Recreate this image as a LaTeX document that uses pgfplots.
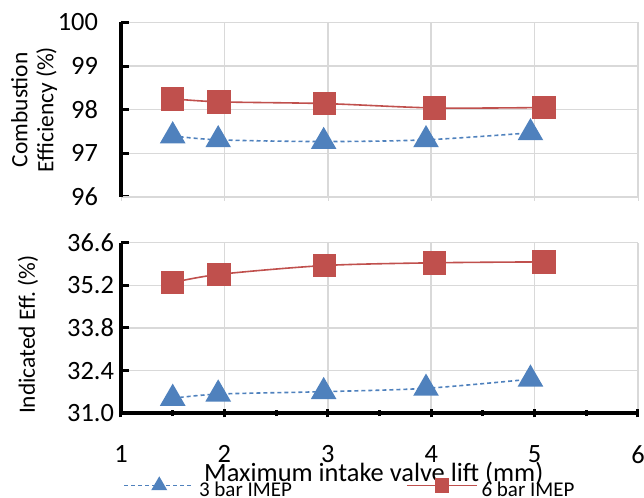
\documentclass[border=0pt]{standalone}
\usepackage{pgfplots}
\pgfplotsset{compat=1.18}
\usepackage{fontspec}
\setmainfont{Carlito}
\frenchspacing
\definecolor{cred}{HTML}{C0504D}
\definecolor{cblue}{HTML}{4F81BD}
\definecolor{cgrid}{HTML}{D9D9D9}
\pgfplotsset{
  common/.style={
    scale only axis, width=258.5pt,
    xmin=1, xmax=6, xtick={1,...,6},
    grid=major, major grid style={cgrid, line width=0.75pt},
    axis lines=left, axis line style={-},
    y axis line style={black, line width=1.6pt},
    ytick style={black, line width=1.5pt},
    ytick align=inside, major tick length=4pt,
    tick label style={font=\fontsize{13.2}{14}\selectfont},
    /pgf/number format/assume math mode=true,
    ylabel style={anchor=center, align=center, font=\fontsize{11.7}{13}\selectfont},
    clip=false,
  },
  blueplot/.style={cblue, line width=0.8pt, dash pattern=on 2pt off 1.5pt, smooth,
    mark=triangle*, mark size=6.6pt, mark options={solid, fill=cblue, draw=cblue}},
  redplot/.style={cred, line width=0.8pt, smooth,
    mark=square*, mark size=5.5pt, mark options={solid, fill=cred, draw=cred}},
}
\begin{document}
\begin{tikzpicture}[x=1pt,y=1pt]
\useasboundingbox (0,0) rectangle (322,249);
\begin{axis}[common,
  at={(60.5pt,150.5pt)}, anchor=south west, height=87.3pt,
  ymin=96, ymax=100, ytick={96,97,98,99,100},
  xticklabels={},
  x axis line style={draw=cgrid, line width=0.75pt},
  xtick style={cgrid},
  yticklabel style={xshift=-8pt},
  ylabel={Combustion\\Efficiency (\%)},
  ylabel style={at={(axis description cs:-0.168,0.5)}},
]
\addplot[blueplot] coordinates {(1.50,97.40) (1.94,97.31) (2.96,97.27) (3.95,97.31) (4.96,97.47)};
\addplot[redplot] coordinates {(1.50,98.25) (1.95,98.18) (2.97,98.14) (4.03,98.04) (5.09,98.05)};
\end{axis}
\begin{axis}[common,
  at={(60.5pt,42.35pt)}, anchor=south west, height=85.3pt,
  ymin=31, ymax=36.6, ytick={31,32.4,33.8,35.2,36.6},
  yticklabel style={/pgf/number format/.cd, fixed, fixed zerofill, precision=1},
  x axis line style={black, line width=1.8pt},
  xtick style={black, line width=1.5pt},
  xtick align=center,
  minor x tick num=1,
  minor x tick style={black, line width=1.5pt},
  minor grid style={draw=none},
  xticklabel style={inner ysep=0.5pt, yshift=-13.5pt},
  ylabel={Indicated Eff. (\%)},
  ylabel style={at={(axis description cs:-0.18,0.46)}},
  xlabel={Maximum intake valve lift (mm)},
  xlabel style={at={(axis description cs:0.489,-0.355)}, anchor=center, inner ysep=0.5pt, font=\fontsize{13.2}{14}\selectfont},
  legend columns=2,
  legend style={at={(axis description cs:0.004,-0.445)}, anchor=west, draw=none, fill=none,
    inner sep=0pt, nodes={inner ysep=0.5pt}, font=\fontsize{10.5}{12}\selectfont,
    /tikz/every even column/.append style={column sep=55pt}},
  legend image code/.code={\draw[mark repeat=2,mark phase=2,#1,every mark/.append style={scale=0.58}] plot coordinates {(0pt,2.6pt) (17.5pt,2.6pt) (35pt,2.6pt)};},
]
\addplot[blueplot] coordinates {(1.50,31.49) (1.94,31.63) (2.96,31.71) (3.95,31.82) (4.96,32.12)};
\addlegendentry{3 bar IMEP}
\addplot[redplot] coordinates {(1.50,35.29) (1.95,35.56) (2.97,35.85) (4.03,35.94) (5.09,35.97)};
\addlegendentry{6 bar IMEP}
\end{axis}
\end{tikzpicture}
\end{document}
